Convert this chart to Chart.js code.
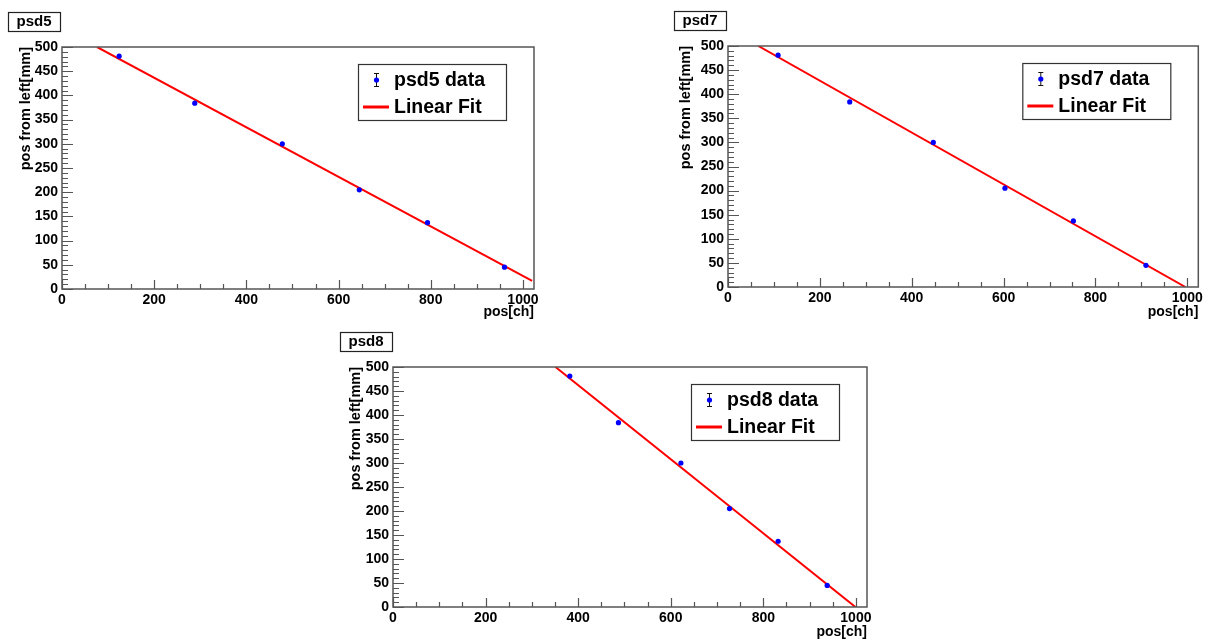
<!DOCTYPE html>
<html>
<head>
<meta charset="utf-8">
<title>psd linear fits</title>
<script src="https://cdn.jsdelivr.net/npm/chart.js@4/dist/chart.umd.min.js"></script>
<style>
    html, body { margin: 0; padding: 0; background: #fff; }
    body { width: 1206px; height: 639px; position: relative; overflow: hidden; }
    canvas { position: absolute; }
</style>
</head>
<body>
<canvas id="psd5" width="560" height="330" style="left:0;top:0"></canvas>
<canvas id="psd7" width="546" height="330" style="left:660px;top:0"></canvas>
<canvas id="psd8" width="560" height="330" style="left:330px;top:320px"></canvas>
<script>
// measured positions (pos from left, mm) - same for every detector
const posFromLeft = [481, 384, 300, 205, 137, 45];

// channel positions
const psd5Channels = [124, 288, 478, 645, 793, 960];
const psd7Channels = [109, 265, 447, 603, 752, 910];
const psd8Channels = [382, 487, 622, 727, 832, 938];

// fitted line end points [ch, mm]
const psd5FitX = [76, 1020];
const psd5FitY = [500, 17];
const psd7FitX = [66, 996];
const psd7FitY = [500, 0];
const psd8FitX = [351, 999];
const psd8FitY = [500, 0];

// axis ticks
const xTicks = [0, 200, 400, 600, 800, 1000];
const yTicks = [0, 50, 100, 150, 200, 250, 300, 350, 400, 450, 500];

const FONT = "'Liberation Sans', Arial, Helvetica, sans-serif";

function toPoints(xs, ys) {
    return xs.map((x, i) => ({x: x, y: ys[i]}));
}

// ROOT-like frame, inner ticks, title box and legend
const rootPlugin = {
    id: "rootStyle",
    afterDraw(chart, args, opts) {
        const ctx = chart.ctx;
        const area = chart.chartArea;
        const xs = chart.scales.x;
        const ys = chart.scales.y;
        ctx.save();

        // ticks on the bottom axis
        ctx.strokeStyle = "#555";
        ctx.lineWidth = 1.2;
        ctx.beginPath();
        for (let v = 0; v <= xs.max; v += 50) {
            const px = Math.round(xs.getPixelForValue(v)) + 0.5;
            const len = v % 200 === 0 ? 9 : 5;
            ctx.moveTo(px, area.bottom);
            ctx.lineTo(px, area.bottom - len);
        }
        // ticks on the left axis
        for (let v = 0; v <= ys.max; v += 10) {
            const py = Math.round(ys.getPixelForValue(v)) + 0.5;
            const len = v % 50 === 0 ? 11 : 6;
            ctx.moveTo(area.left, py);
            ctx.lineTo(area.left + len, py);
        }
        ctx.stroke();

        // frame
        ctx.lineWidth = 1.5;
        ctx.strokeStyle = "#555";
        ctx.strokeRect(area.left, area.top, area.right - area.left, area.bottom - area.top);

        // title box
        ctx.lineWidth = 1.2;
        ctx.strokeStyle = "#222";
        ctx.fillStyle = "#fff";
        ctx.fillRect(opts.titleX, opts.titleY, 52, 19);
        ctx.strokeRect(opts.titleX + 0.5, opts.titleY + 0.5, 52, 19);
        ctx.fillStyle = "#000";
        ctx.font = "bold 15px " + FONT;
        ctx.textAlign = "center";
        ctx.textBaseline = "middle";
        ctx.fillText(opts.title, opts.titleX + 26, opts.titleY + 10);

        // legend box
        const bw = 148, bh = 56;
        const bx = area.right - 28 - bw;
        const by = area.top + 17;
        ctx.fillStyle = "#fff";
        ctx.fillRect(bx, by, bw, bh);
        ctx.strokeStyle = "#333";
        ctx.lineWidth = 1.2;
        ctx.strokeRect(bx + 0.5, by + 0.5, bw, bh);

        const ds = chart.data.datasets;
        // data marker with error bar
        ctx.strokeStyle = "#111";
        ctx.lineWidth = 1;
        ctx.beginPath();
        ctx.moveTo(bx + 18.5, by + 9); ctx.lineTo(bx + 18.5, by + 23);
        ctx.moveTo(bx + 16, by + 9.5); ctx.lineTo(bx + 21, by + 9.5);
        ctx.moveTo(bx + 16, by + 22.5); ctx.lineTo(bx + 21, by + 22.5);
        ctx.stroke();
        ctx.fillStyle = ds[0].backgroundColor;
        ctx.beginPath();
        ctx.arc(bx + 18.5, by + 16, 2.6, 0, Math.PI * 2);
        ctx.fill();
        // fit line sample
        ctx.strokeStyle = ds[1].borderColor;
        ctx.lineWidth = 3;
        ctx.beginPath();
        ctx.moveTo(bx + 5, by + 43);
        ctx.lineTo(bx + 31, by + 43);
        ctx.stroke();

        ctx.fillStyle = "#000";
        ctx.font = "bold 19.5px " + FONT;
        ctx.textAlign = "left";
        ctx.textBaseline = "alphabetic";
        ctx.fillText(ds[0].label, bx + 36, by + 22);
        ctx.fillText(ds[1].label, bx + 36, by + 49);

        ctx.restore();
    }
};

function makeChart(id, name, channels, fitX, fitY, box) {
    const canvas = document.getElementById(id);
    const W = canvas.width, H = canvas.height;

    return new Chart(canvas, {
        type: "scatter",
        data: {
            datasets: [
                {
                    label: name + " data",
                    data: toPoints(channels, posFromLeft),
                    backgroundColor: "#0000ff",
                    borderColor: "#0000ff",
                    pointRadius: 2.6,
                    pointBorderWidth: 0,
                    order: 0
                },
                {
                    type: "line",
                    label: "Linear Fit",
                    data: toPoints(fitX, fitY),
                    borderColor: "#ff0000",
                    borderWidth: 2,
                    pointRadius: 0,
                    fill: false,
                    order: 1
                }
            ]
        },
        options: {
            responsive: false,
            animation: false,
            events: [],
            layout: {
                padding: {left: 0, top: box.top, right: W - box.right, bottom: 0}
            },
            plugins: {
                legend: {display: false},
                tooltip: {enabled: false},
                rootStyle: {title: name, titleX: box.titleX, titleY: box.titleY}
            },
            scales: {
                x: {
                    type: "linear",
                    min: 0,
                    max: 1024,
                    afterBuildTicks: (s) => { s.ticks = xTicks.map(v => ({value: v})); },
                    afterFit: (s) => { s.height = H - box.bottom; },
                    grid: {display: false, drawTicks: false},
                    border: {display: false},
                    ticks: {
                        padding: 3,
                        color: "#000",
                        maxRotation: 0,
                        callback: (v) => String(v),
                        font: {family: FONT, size: 14, weight: "bold"}
                    },
                    title: {
                        display: true,
                        text: "pos[ch]",
                        align: "end",
                        color: "#000",
                        padding: {top: 0, bottom: 9},
                        font: {family: FONT, size: 14, weight: "bold"}
                    }
                },
                y: {
                    type: "linear",
                    min: 0,
                    max: 500,
                    afterBuildTicks: (s) => { s.ticks = yTicks.map(v => ({value: v})); },
                    afterFit: (s) => { s.width = box.left; },
                    grid: {display: false, drawTicks: false},
                    border: {display: false},
                    ticks: {
                        padding: 4,
                        color: "#000",
                        callback: (v) => String(v),
                        font: {family: FONT, size: 14, weight: "bold"}
                    },
                    title: {
                        display: true,
                        text: "pos from left[mm]",
                        align: "end",
                        color: "#000",
                        padding: {top: 17, bottom: 0},
                        font: {family: FONT, size: 14.5, weight: "bold"}
                    }
                }
            }
        },
        plugins: [rootPlugin]
    });
}

document.addEventListener("DOMContentLoaded", () => {
    makeChart("psd5", "psd5", psd5Channels, psd5FitX, psd5FitY,
        {left: 62, top: 47, right: 534, bottom: 289, titleX: 8, titleY: 12});
    makeChart("psd7", "psd7", psd7Channels, psd7FitX, psd7FitY,
        {left: 68, top: 46, right: 540, bottom: 287, titleX: 14, titleY: 11});
    makeChart("psd8", "psd8", psd8Channels, psd8FitX, psd8FitY,
        {left: 63, top: 47, right: 537, bottom: 287, titleX: 10, titleY: 12});
});
</script>
</body>
</html>
